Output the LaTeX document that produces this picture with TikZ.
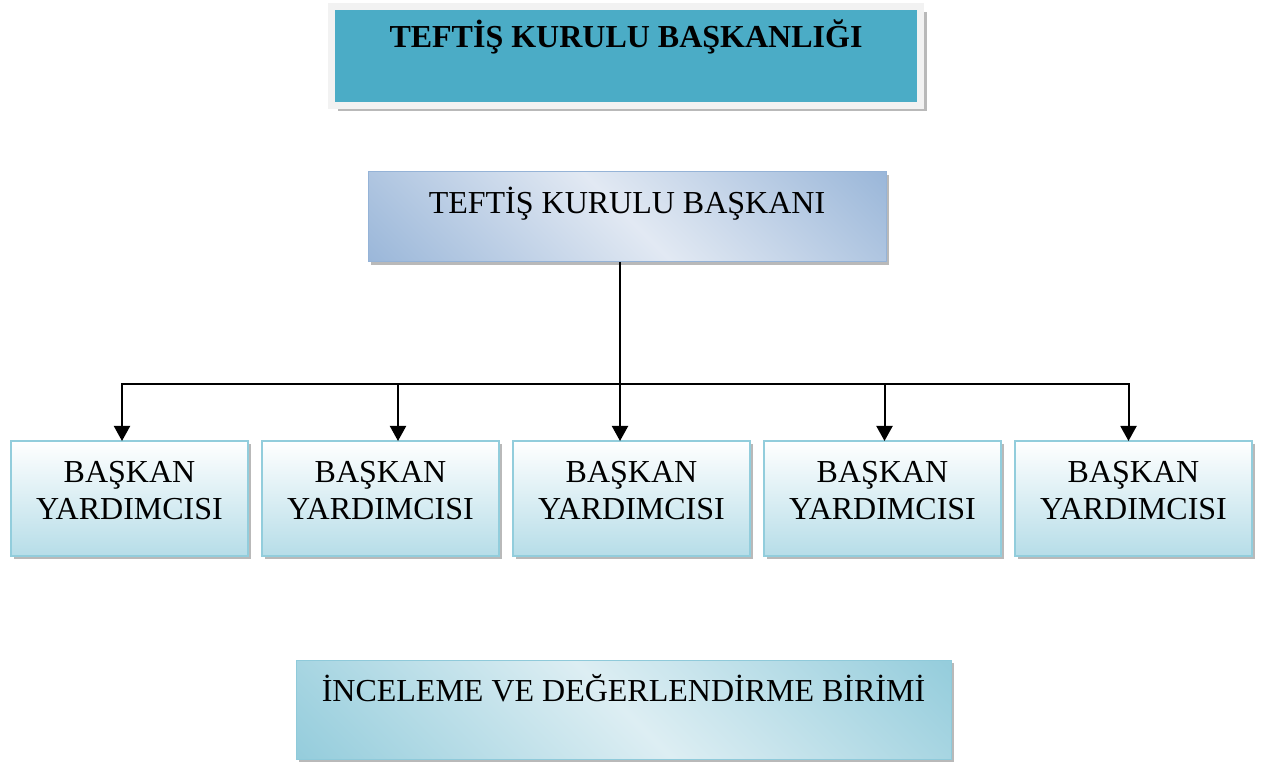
\documentclass[tikz,border=0pt]{standalone}
\usepackage{fontspec}
\setmainfont{Liberation Serif}
\usetikzlibrary{arrows.meta,shadows}
\definecolor{officeteal}{HTML}{4BACC6}
\definecolor{chiefdark}{HTML}{95B3D7}
\definecolor{chieflight}{HTML}{E2E9F3}
\definecolor{deputyline}{HTML}{92CDDC}
\definecolor{deputybottom}{HTML}{B6DDE8}
\definecolor{unitdark}{HTML}{8FCADA}
\definecolor{unitlight}{HTML}{DDEEF3}
\pgfdeclareverticalshading{chiefshade}{100bp}{color(0bp)=(chiefdark);
  color(12bp)=(chiefdark); color(50bp)=(chieflight); color(88bp)=(chiefdark);
  color(100bp)=(chiefdark)}
\pgfdeclareverticalshading{unitshade}{100bp}{color(0bp)=(unitdark);
  color(12bp)=(unitdark); color(50bp)=(unitlight); color(88bp)=(unitdark);
  color(100bp)=(unitdark)}
\tikzset{
  boxtext/.style={rectangle, inner sep=0pt, outer sep=0pt,
      font=\fontsize{16}{18.5}\selectfont},
  boxshadow/.style={drop shadow={shadow xshift=#1, shadow yshift=-#1,
      opacity=1, fill=gray!55}},
  topbox/.style={boxtext, draw=gray!10, line width=3.5pt, fill=officeteal,
      minimum width=294.5pt, text height=20.75pt, text depth=28.75pt,
      boxshadow=3pt},
  chiefbox/.style={boxtext, draw=chiefdark, line width=0.5pt,
      shading=chiefshade, shading angle=-45, minimum width=259pt,
      text height=20.75pt, text depth=24.25pt, boxshadow=1.5pt},
  deputybox/.style={boxtext, draw=deputyline, line width=1pt, align=center,
      top color=white, bottom color=deputybottom,
      minimum width=118.5pt, text height=39.25pt, text depth=18.25pt,
      boxshadow=1.5pt},
  unitbox/.style={boxtext, draw=unitdark, line width=0.5pt,
      shading=unitshade, shading angle=-45, minimum width=327.5pt,
      text height=20.75pt, text depth=28.75pt, boxshadow=1.5pt},
  arrowline/.style={line width=1pt, -{Triangle[length=7.5pt,width=8pt]}}
}
\begin{document}
\begin{tikzpicture}[x=0.5pt,y=-0.5pt]
  \useasboundingbox (0,0) rectangle (1267,769);
  % boxes
  \node[topbox, anchor=north] (office) at (626,6.5)
    {\textbf{TEFTİŞ KURULU BAŞKANLIĞI}};
  \node[chiefbox, anchor=north] (chief) at (627,172)
    {TEFTİŞ KURULU BAŞKANI};
  \node[deputybox, anchor=north west] (dep1) at (11,441) {BAŞKAN\\YARDIMCISI};
  \node[deputybox, anchor=north west] (dep2) at (262,441) {BAŞKAN\\YARDIMCISI};
  \node[deputybox, anchor=north west] (dep3) at (513,441) {BAŞKAN\\YARDIMCISI};
  \node[deputybox, anchor=north west] (dep4) at (764,441) {BAŞKAN\\YARDIMCISI};
  \node[deputybox, anchor=north west] (dep5) at (1015,441) {BAŞKAN\\YARDIMCISI};
  \node[unitbox, anchor=north] (unit) at (623.5,660)
    {İNCELEME VE DEĞERLENDİRME BİRİMİ};
  % connectors
  \coordinate (bus) at (620,384);
  \draw[line width=1pt] ([xshift=-3.5pt]chief.south) -- (bus);
  \draw[arrowline] (bus) -| ([xshift=-3.75pt]dep1.north);
  \draw[arrowline] (bus) -| ([xshift=8.75pt]dep2.north);
  \draw[arrowline] (bus) -- ([xshift=-5.75pt]dep3.north);
  \draw[arrowline] (bus) -| ([xshift=1pt]dep4.north);
  \draw[arrowline] (bus) -| ([xshift=-2.5pt]dep5.north);
\end{tikzpicture}
\end{document}
